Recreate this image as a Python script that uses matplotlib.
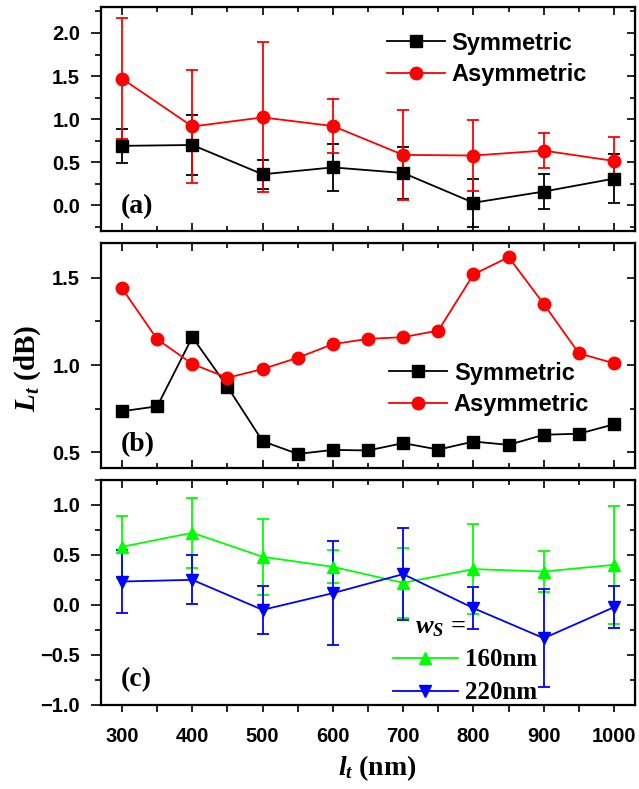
import numpy as np
import matplotlib.pyplot as plt
from matplotlib.ticker import MultipleLocator, NullFormatter

plt.rcParams['font.family'] = 'Liberation Sans'
plt.rcParams['font.weight'] = 'bold'
plt.rcParams['mathtext.fontset'] = 'custom'
plt.rcParams['mathtext.rm'] = 'Liberation Serif:bold'
plt.rcParams['mathtext.it'] = 'Liberation Serif:italic:bold'
plt.rcParams['mathtext.bf'] = 'Liberation Serif:bold'

# (a) measured, with error bars
x_a = [300, 400, 500, 600, 700, 800, 900, 1000]
sym_a = [0.69, 0.70, 0.36, 0.44, 0.375, 0.03, 0.16, 0.31]
sym_a_err = [0.20, 0.35, 0.17, 0.27, 0.30, 0.28, 0.20, 0.28]
asym_a = [1.47, 0.915, 1.02, 0.92, 0.585, 0.578, 0.635, 0.515]
asym_a_err = [0.70, 0.66, 0.87, 0.31, 0.52, 0.41, 0.20, 0.28]

# (b) simulated
x_b = [300, 350, 400, 450, 500, 550, 600, 650, 700, 750, 800, 850, 900, 950, 1000]
sym_b = [0.735, 0.763, 1.16, 0.875, 0.563, 0.49, 0.513, 0.51, 0.552, 0.515,
         0.561, 0.542, 0.60, 0.606, 0.66]
asym_b = [1.44, 1.148, 1.006, 0.927, 0.977, 1.042, 1.12, 1.15, 1.16, 1.198,
          1.52, 1.619, 1.35, 1.067, 1.01]

# (c) width comparison
x_c = [300, 400, 500, 600, 700, 800, 900, 1000]
w160 = [0.58, 0.72, 0.48, 0.38, 0.22, 0.357, 0.333, 0.40]
w160_err = [0.31, 0.35, 0.38, 0.165, 0.35, 0.45, 0.20, 0.59]
w220 = [0.233, 0.25, -0.05, 0.117, 0.307, -0.033, -0.333, -0.023]
w220_err = [0.31, 0.245, 0.243, 0.52, 0.46, 0.21, 0.49, 0.21]

fig = plt.figure(figsize=(6.39, 7.89), dpi=100)
left, width = 0.158, 0.836
ax_a = fig.add_axes([left, 0.707, width, 0.284])
ax_b = fig.add_axes([left, 0.407, width, 0.285])
ax_c = fig.add_axes([left, 0.1065, width, 0.2855])

lw = 1.3
cs = 4


def style(ax, ymaj, ymin, bottom_out=False):
    ax.set_xlim(270, 1030)
    ax.xaxis.set_major_locator(MultipleLocator(100))
    ax.xaxis.set_minor_locator(MultipleLocator(50))
    ax.yaxis.set_major_locator(MultipleLocator(ymaj))
    ax.yaxis.set_minor_locator(MultipleLocator(ymin))
    for s in ax.spines.values():
        s.set_linewidth(1.6)
    ax.tick_params(axis='y', which='both', direction='out', width=1.2, labelsize=14.5, pad=8)
    ax.tick_params(axis='y', which='major', length=7)
    ax.tick_params(axis='y', which='minor', length=4)
    ax.tick_params(axis='x', which='both', direction='out' if bottom_out else 'in',
                   width=1.2, labelsize=14.5, pad=11)
    ax.tick_params(axis='x', which='major', length=5 if bottom_out else 6)
    ax.tick_params(axis='x', which='minor', length=5 if bottom_out else 3.5)
    if not bottom_out:
        ax.xaxis.set_major_formatter(NullFormatter())
    top = ax.secondary_xaxis('top')
    top.xaxis.set_major_locator(MultipleLocator(100))
    top.xaxis.set_minor_locator(MultipleLocator(50))
    top.xaxis.set_major_formatter(NullFormatter())
    top.tick_params(which='both', direction='in', width=1.2)
    top.tick_params(which='major', length=6)
    top.tick_params(which='minor', length=3.5)
    right = ax.secondary_yaxis('right')
    right.yaxis.set_major_locator(MultipleLocator(ymaj))
    right.yaxis.set_minor_locator(MultipleLocator(ymin))
    right.yaxis.set_major_formatter(NullFormatter())
    right.tick_params(which='both', direction='in', width=1.2)
    right.tick_params(which='major', length=6)
    right.tick_params(which='minor', length=3.5)


# panel (a)
ax_a.errorbar(x_a, sym_a, yerr=sym_a_err, fmt='none', ecolor='k', elinewidth=lw,
              capsize=cs, capthick=lw)
ax_a.errorbar(x_a, asym_a, yerr=asym_a_err, fmt='none', ecolor='r', elinewidth=lw,
              capsize=cs, capthick=lw)
ax_a.plot(x_a, sym_a, 'k-s', lw=lw, ms=8, label='Symmetric')
ax_a.plot(x_a, asym_a, 'r-o', lw=lw, ms=9, label='Asymmetric')
ax_a.set_ylim(-0.3, 2.3)
style(ax_a, 0.5, 0.25)
ax_a.legend(loc='upper left', bbox_to_anchor=(0.535, 0.89), frameon=False,
            fontsize=17, handlelength=2.45, handletextpad=0.3, labelspacing=0.35,
            borderpad=0, borderaxespad=0, numpoints=1)
ax_a.text(0.037, 0.108, '(a)', transform=ax_a.transAxes, family='Liberation Serif',
          fontsize=20, fontweight='bold', va='center', ha='left')

# panel (b)
ax_b.plot(x_b, sym_b, 'k-s', lw=lw, ms=8, label='Symmetric')
ax_b.plot(x_b, asym_b, 'r-o', lw=lw, ms=9, label='Asymmetric')
ax_b.set_ylim(0.41, 1.70)
style(ax_b, 0.5, 0.25)
ax_b.legend(loc='upper left', bbox_to_anchor=(0.539, 0.473), frameon=False,
            fontsize=17, handlelength=2.45, handletextpad=0.3, labelspacing=0.35,
            borderpad=0, borderaxespad=0, numpoints=1)
ax_b.text(0.037, 0.102, '(b)', transform=ax_b.transAxes, family='Liberation Serif',
          fontsize=20, fontweight='bold', va='center', ha='left')

# panel (c)
ax_c.errorbar(x_c, w160, yerr=w160_err, fmt='none', ecolor='#00ff00', elinewidth=lw,
              capsize=cs, capthick=lw)
ax_c.errorbar(x_c, w220, yerr=w220_err, fmt='none', ecolor='#0000ff', elinewidth=lw,
              capsize=cs, capthick=lw)
ax_c.plot(x_c, w160, '-^', color='#00ff00', lw=lw, ms=9, label='160nm')
ax_c.plot(x_c, w220, '-v', color='#0000ff', lw=lw, ms=9, label='220nm')
ax_c.set_ylim(-1.0, 1.25)
style(ax_c, 0.5, 0.25, bottom_out=True)
leg = ax_c.legend(loc='upper left', bbox_to_anchor=(0.546, 0.251), frameon=False,
                  handlelength=2.6, handletextpad=0.3, labelspacing=0.4,
                  borderpad=0, borderaxespad=0, numpoints=1,
                  prop={'family': 'Liberation Serif', 'weight': 'bold', 'size': 18})
ax_c.text(0.587, 0.345, r'$w_S$ =', transform=ax_c.transAxes, family='Liberation Serif',
          fontsize=19, fontweight='bold', va='center', ha='left')
ax_c.text(0.037, 0.111, '(c)', transform=ax_c.transAxes, family='Liberation Serif',
          fontsize=20, fontweight='bold', va='center', ha='left')

fig.text(0.044, 1 - 368 / 789, r'$L_t$ (dB)', rotation=90, family='Liberation Serif',
         fontsize=21, fontweight='bold', va='center', ha='center')
fig.text(377.5 / 639, 1 - 768 / 789, r'$l_t$ (nm)', family='Liberation Serif',
         fontsize=20, fontweight='bold', va='center', ha='center')

fig.savefig('out.png', dpi=100)
